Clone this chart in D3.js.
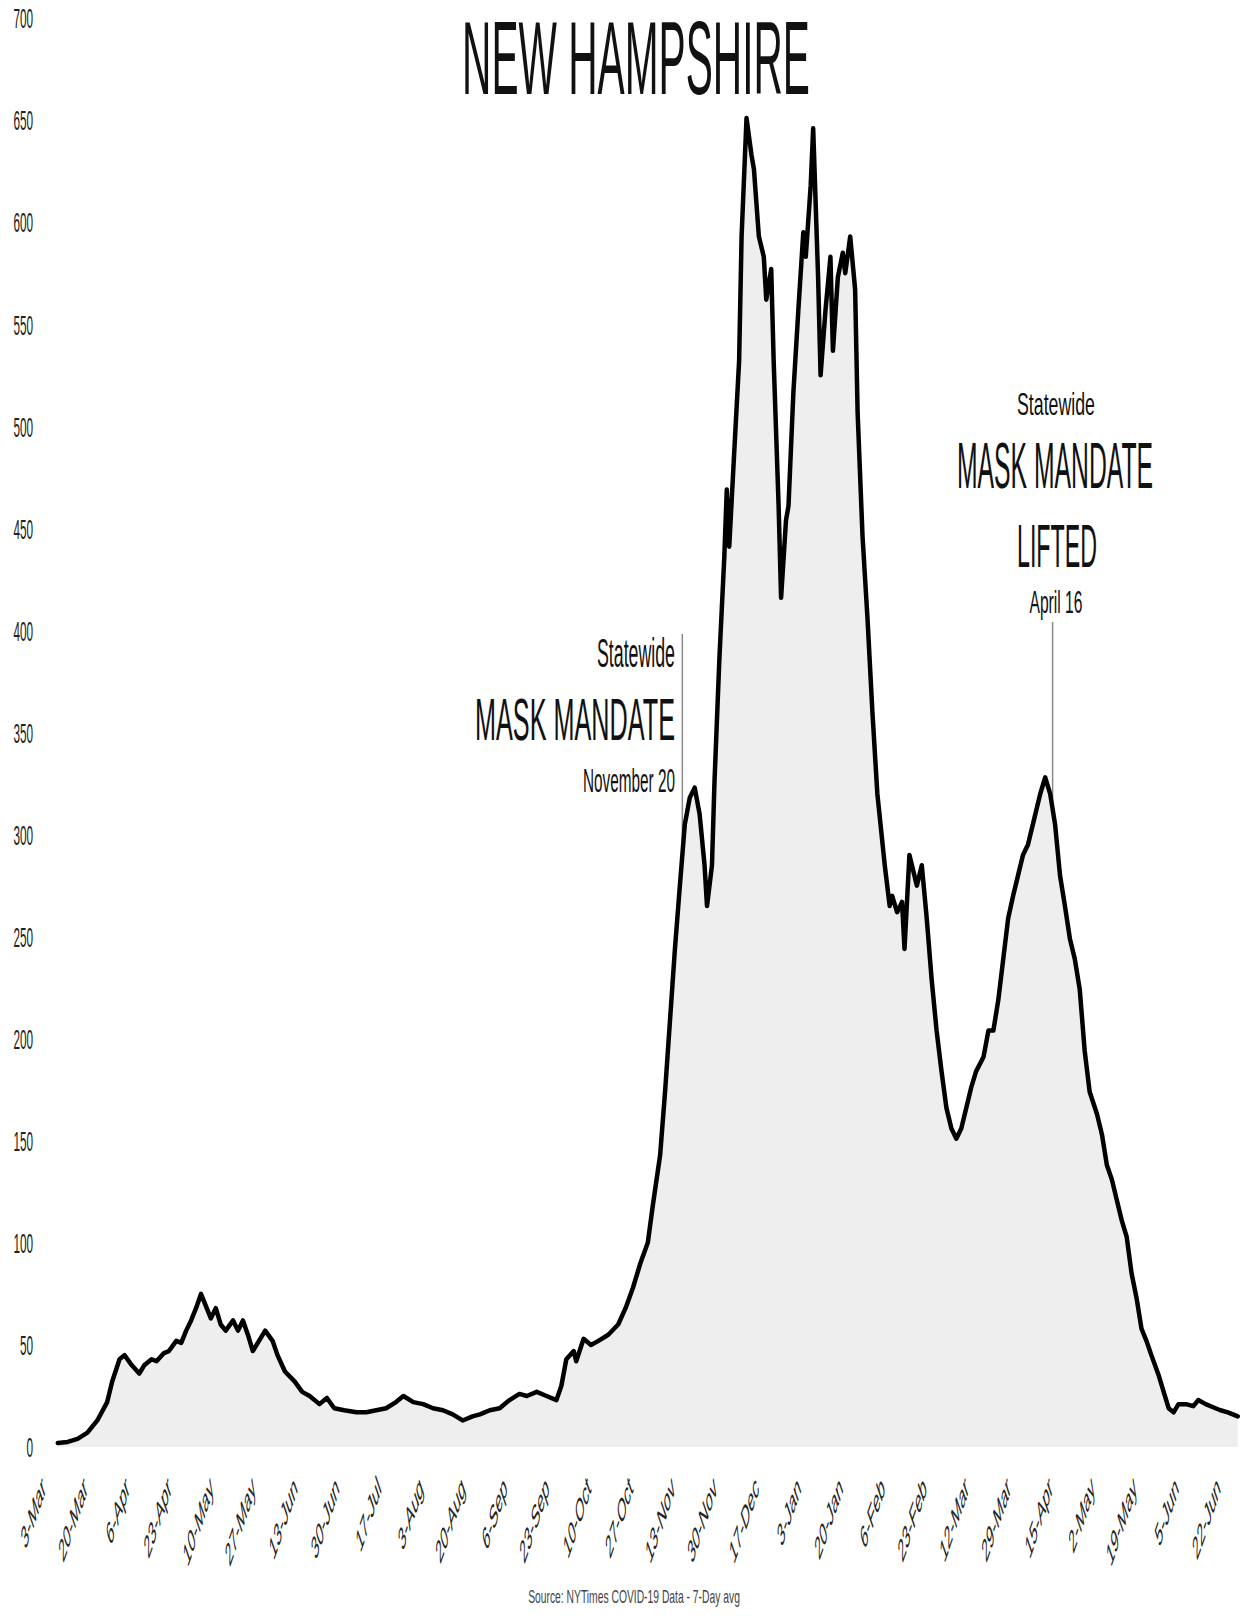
<!DOCTYPE html>
<html>
<head>
<meta charset="utf-8">
<script src="https://cdn.jsdelivr.net/npm/d3@7"></script>
<style>
  html, body { margin: 0; padding: 0; background: #ffffff; }
  svg { display: block; }
</style>
</head>
<body>
<svg id="chart" width="1246" height="1616"></svg>
<script>
// ---------------- DATA ----------------
const chartTitle = "NEW HAMPSHIRE";
const sourceText = "Source: NYTimes COVID-19 Data - 7-Day avg";

const dates = [
"2020-03-09","2020-03-13","2020-03-17","2020-03-21","2020-03-25","2020-03-29","2020-03-31","2020-04-03","2020-04-05","2020-04-08",
"2020-04-11","2020-04-13","2020-04-16","2020-04-18","2020-04-21","2020-04-23","2020-04-26","2020-04-28","2020-04-30","2020-05-02",
"2020-05-04","2020-05-06","2020-05-08","2020-05-10","2020-05-12","2020-05-14","2020-05-16","2020-05-19","2020-05-21","2020-05-23",
"2020-05-25","2020-05-27","2020-05-30","2020-06-01","2020-06-04","2020-06-06","2020-06-09","2020-06-13","2020-06-16","2020-06-19",
"2020-06-23","2020-06-26","2020-06-29","2020-07-03","2020-07-08","2020-07-12","2020-07-16","2020-07-20","2020-07-24","2020-07-27",
"2020-07-31","2020-08-04","2020-08-08","2020-08-12","2020-08-16","2020-08-20","2020-08-24","2020-08-27","2020-08-31","2020-09-04",
"2020-09-08","2020-09-12","2020-09-15","2020-09-19","2020-09-23","2020-09-27","2020-09-29","2020-10-01","2020-10-04","2020-10-05",
"2020-10-08","2020-10-11","2020-10-14","2020-10-18","2020-10-22","2020-10-25","2020-10-28","2020-10-31","2020-11-03","2020-11-05",
"2020-11-08","2020-11-10","2020-11-12","2020-11-14","2020-11-16","2020-11-18","2020-11-20","2020-11-22","2020-11-24","2020-11-26",
"2020-11-27","2020-11-29","2020-11-30","2020-12-02","2020-12-04","2020-12-05","2020-12-06","2020-12-08","2020-12-10","2020-12-11",
"2020-12-13","2020-12-15","2020-12-16","2020-12-18","2020-12-20","2020-12-21","2020-12-23","2020-12-24","2020-12-26","2020-12-27",
"2020-12-29","2020-12-30","2021-01-01","2021-01-03","2021-01-05","2021-01-06","2021-01-08","2021-01-09","2021-01-11","2021-01-12",
"2021-01-14","2021-01-16","2021-01-17","2021-01-19","2021-01-21","2021-01-22","2021-01-24","2021-01-26","2021-01-27","2021-01-29",
"2021-01-31","2021-02-02","2021-02-04","2021-02-07","2021-02-09","2021-02-10","2021-02-12","2021-02-14","2021-02-15","2021-02-17",
"2021-02-19","2021-02-20","2021-02-22","2021-02-24","2021-02-26","2021-02-28","2021-03-02","2021-03-04","2021-03-06","2021-03-08",
"2021-03-10","2021-03-12","2021-03-14","2021-03-16","2021-03-19","2021-03-21","2021-03-23","2021-03-25","2021-03-27","2021-03-29",
"2021-03-31","2021-04-02","2021-04-04","2021-04-06","2021-04-08","2021-04-11","2021-04-13","2021-04-15","2021-04-17","2021-04-19",
"2021-04-21","2021-04-23","2021-04-25","2021-04-27","2021-04-29","2021-05-01","2021-05-04","2021-05-06","2021-05-08","2021-05-10",
"2021-05-12","2021-05-14","2021-05-16","2021-05-18","2021-05-20","2021-05-22","2021-05-24","2021-05-26","2021-05-29","2021-05-31",
"2021-06-02","2021-06-04","2021-06-06","2021-06-09","2021-06-12","2021-06-14","2021-06-17","2021-06-21","2021-06-23","2021-06-26",
"2021-06-30"
];

const cases = [
2,2.5,4,7,13,22,32,43,45,40,
36,40,43,42,46,47,52,51,57,62,
68,75,69,63,68,60,57,62,57,62,
55,47,53,57,52,45,37,32,27,25,
21,24,19,18,17,17,18,19,22,25,
22,21,19,18,16,13,15,16,18,19,
23,26,25,27,25,23,30,43,47,42,
53,50,52,55,60,68,78,90,100,118,
143,174,209,244,275,305,318,323,310,285,
265,285,325,386,436,469,441,487,532,593,
651,633,626,593,583,562,577,532,461,416,
454,461,517,557,595,583,618,646,573,525,
557,583,537,573,585,575,593,567,507,446,
406,360,320,285,265,270,262,267,244,290,
280,275,285,259,229,204,184,166,156,151,
156,166,176,184,191,204,204,219,239,259,
270,280,290,295,305,320,328,320,305,280,
265,249,239,224,194,174,163,153,138,131,
121,111,103,85,73,58,52,45,35,27,
19,17,21,21,20,23,21,19,18,17,
15
];

const yTicks = [0,50,100,150,200,250,300,350,400,450,500,550,600,650,700];

const xTickDates = [
"2020-03-03","2020-03-20","2020-04-06","2020-04-23","2020-05-10","2020-05-27","2020-06-13","2020-06-30",
"2020-07-17","2020-08-03","2020-08-20","2020-09-06","2020-09-23","2020-10-10","2020-10-27","2020-11-13",
"2020-11-30","2020-12-17","2021-01-03","2021-01-20","2021-02-06","2021-02-23","2021-03-12","2021-03-29",
"2021-04-15","2021-05-02","2021-05-19","2021-06-05","2021-06-22"
];

// leader line positions as drawn in the picture
const mandateStartLine = "2020-11-17";
const mandateStartLabels = ["Statewide", "MASK MANDATE", "November 20"];
const mandateEndLine = "2021-04-16";
const mandateEndLabels = ["Statewide", "MASK MANDATE", "LIFTED", "April 16"];

// ---------------- DRAWING ----------------
const FONT = "'Liberation Sans', Arial, 'DejaVu Sans', sans-serif";
const parse = d3.timeParse("%Y-%m-%d");
const svg = d3.select("#chart");

const n = Math.min(dates.length, cases.length);
const data = d3.range(n).map(i => ({ date: parse(dates[i]), v: cases[i] }));

const x = d3.scaleTime()
  .domain([parse(xTickDates[0]), parse(xTickDates[xTickDates.length - 1])])
  .range([43, 1218]);
const y = d3.scaleLinear().domain([0, 700]).range([1447, 18]);

// background
svg.append("rect").attr("width", 1246).attr("height", 1616).attr("fill", "#ffffff");

// light area under the curve
svg.append("path").datum(data)
  .attr("d", d3.area().x(d => x(d.date)).y0(y(0)).y1(d => y(d.v)))
  .attr("fill", "#eeeeee");

// helper: horizontally condensed text fitted to a width
function fitText(str, px, baseline, fontSize, width, anchor, fill) {
  const t = svg.append("text")
    .attr("font-family", FONT)
    .attr("font-size", fontSize)
    .attr("fill", fill || "#111")
    .attr("text-anchor", anchor)
    .text(str);
  const w = t.node().getComputedTextLength() || 1;
  t.attr("transform", `translate(${px},${baseline}) scale(${width / w},1)`);
  return t;
}

// value on curve at a date (for annotation leader end)
function valueAt(dt) {
  const i = d3.bisector(d => d.date).left(data, dt);
  if (i <= 0) return data[0].v;
  if (i >= data.length) return data[data.length - 1].v;
  const a = data[i - 1], b = data[i];
  const t = (dt - a.date) / (b.date - a.date);
  return a.v + (b.v - a.v) * t;
}

// annotation leader lines
const d1 = parse(mandateStartLine);
svg.append("line")
  .attr("x1", x(d1)).attr("x2", x(d1))
  .attr("y1", 634).attr("y2", y(valueAt(d1)))
  .attr("stroke", "#8a8a8a").attr("stroke-width", 1.5);
const d2 = parse(mandateEndLine);
svg.append("line")
  .attr("x1", x(d2)).attr("x2", x(d2))
  .attr("y1", 622).attr("y2", y(valueAt(d2)))
  .attr("stroke", "#8a8a8a").attr("stroke-width", 1.5);

// main line
svg.append("path").datum(data)
  .attr("d", d3.line().x(d => x(d.date)).y(d => y(d.v)))
  .attr("fill", "none")
  .attr("stroke", "#000")
  .attr("stroke-width", 4.5)
  .attr("stroke-linejoin", "round")
  .attr("stroke-linecap", "round");

// Y axis
const gy = svg.append("g")
  .attr("transform", "translate(33,0)")
  .call(d3.axisLeft(y).tickValues(yTicks).tickSize(0).tickPadding(0));
gy.select(".domain").remove();
gy.selectAll("text")
  .attr("x", 0).attr("dy", "0.35em")
  .attr("font-family", FONT).attr("font-size", 28).attr("fill", "#222")
  .attr("transform", "scale(0.42,1)");

// X axis
const gx = svg.append("g")
  .attr("transform", "translate(0,1482)")
  .call(d3.axisBottom(x)
    .tickValues(xTickDates.map(parse))
    .tickFormat(d3.timeFormat("%-d-%b"))
    .tickSize(0).tickPadding(0));
gx.select(".domain").remove();
gx.selectAll("text")
  .attr("y", 0).attr("dy", "0.35em")
  .attr("text-anchor", "end")
  .attr("font-family", FONT).attr("font-size", 33).attr("fill", "#222")
  .attr("transform", "scale(0.34,1) rotate(-45)");

// title
fitText(chartTitle, 636, 94, 104, 348, "middle", "#111");

// left annotation (right-aligned)
fitText(mandateStartLabels[0], 675, 667, 40, 78, "end");
fitText(mandateStartLabels[1], 675, 740, 60, 200, "end");
fitText(mandateStartLabels[2], 675, 792, 33, 92, "end");

// right annotation (centered)
fitText(mandateEndLabels[0], 1056, 415, 32, 78, "middle");
fitText(mandateEndLabels[1], 1055, 488, 64, 196, "middle");
fitText(mandateEndLabels[2], 1057, 567, 62, 80, "middle");
fitText(mandateEndLabels[3], 1056, 613, 32, 53, "middle");

// source
fitText(sourceText, 634, 1603, 18, 212, "middle", "#444");
</script>
</body>
</html>
